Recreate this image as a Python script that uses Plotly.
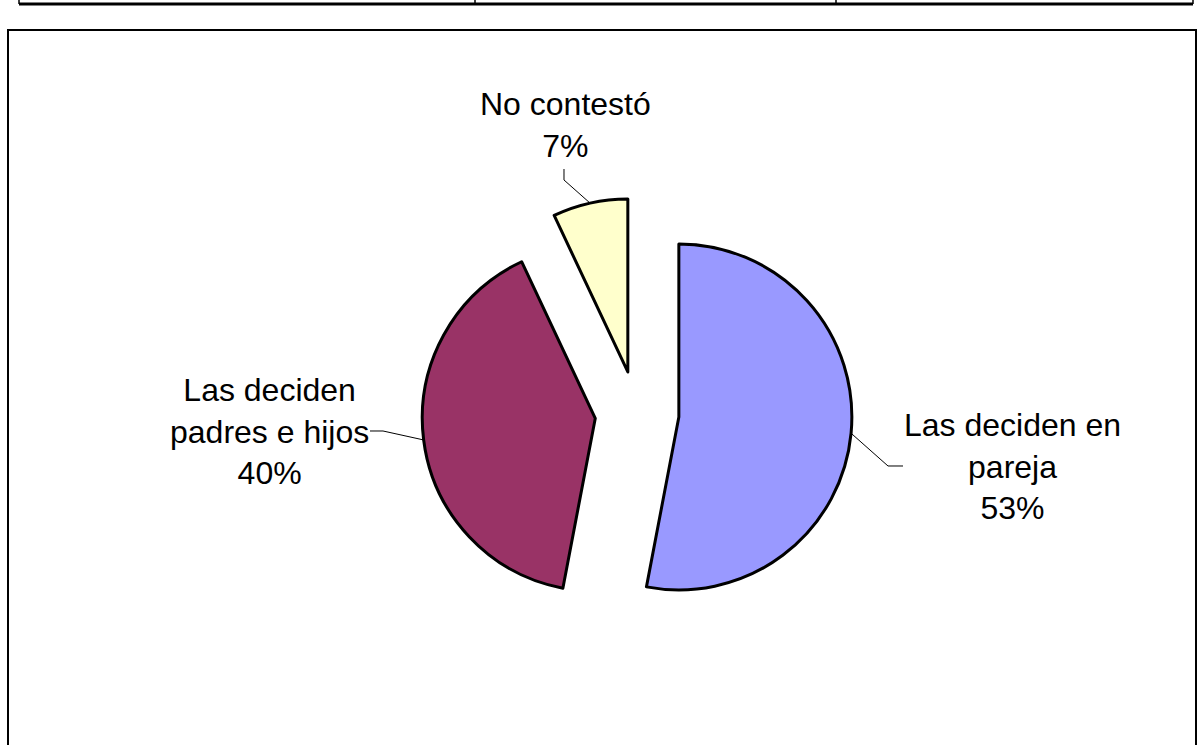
import math
import plotly.graph_objects as go

# ---- data ----
labels = ["Las deciden en pareja", "Las deciden padres e hijos", "No contestó"]
label_text = ["Las deciden en<br>pareja", "Las deciden<br>padres e hijos", "No contestó"]
values = [53, 40, 7]
colors = ["#9999FF", "#993366", "#FFFFCC"]

W, H = 1198, 745
FONT = "Liberation Sans, Arial, sans-serif"

# pie placement (pixels)
cx, cy = 637, 413
r = 173
pull = 0.243
half = r * (1 + pull)
dom_x = [(cx - half) / W, (cx + half) / W]
dom_y = [1 - (cy + half) / H, 1 - (cy - half) / H]

total = sum(values)
pct = [round(v * 100 / total) for v in values]

fig = go.Figure(go.Pie(
    labels=labels, values=values, sort=False, direction="clockwise", rotation=0,
    pull=[pull] * len(values),
    marker=dict(colors=colors, line=dict(color="black", width=3)),
    textinfo="none", hoverinfo="label+percent", showlegend=False,
    domain=dict(x=dom_x, y=dom_y),
))

def px(x):
    return x / W

def py(y):
    return 1 - y / H

# label layout (pixel positions of label centres and leader elbows)
label_pos = [(1013, 466), (269, 431), (565, 125)]
elbows = [[(888, 466), (903, 466)], [(383, 431), (370, 431)], [(564, 180), (564, 169)]]

annotations = []
shapes = []
cum = 0
for i, v in enumerate(values):
    mid = (cum + v / 2) / total * 2 * math.pi
    cum += v
    ex = cx + pull * r * math.sin(mid)
    ey = cy - pull * r * math.cos(mid)
    ax_ = ex + r * math.sin(mid)
    ay_ = ey - r * math.cos(mid)
    pts = [(ax_, ay_)] + elbows[i]
    path = "M " + " L ".join(f"{px(x):.5f},{py(y):.5f}" for x, y in pts)
    shapes.append(dict(type="path", xref="paper", yref="paper", path=path,
                       line=dict(color="black", width=1)))
    lx, ly = label_pos[i]
    annotations.append(dict(
        x=px(lx), y=py(ly), xref="paper", yref="paper",
        text=f"{label_text[i]}<br>{pct[i]}%", showarrow=False,
        xanchor="center", yanchor="middle", align="center",
        font=dict(family=FONT, size=32, color="black"),
    ))

# frame and top table rule
shapes.append(dict(type="path", xref="paper", yref="paper",
                   path=f"M {px(8)},{py(800)} L {px(8)},{py(30)} L {px(1196)},{py(30)} L {px(1196)},{py(800)}",
                   line=dict(color="black", width=2)))
shapes.append(dict(type="line", xref="paper", yref="paper",
                   x0=px(19), x1=px(1193), y0=py(4), y1=py(4),
                   line=dict(color="black", width=3)))
for vx in [19, 475, 836, 1193]:
    shapes.append(dict(type="line", xref="paper", yref="paper",
                       x0=px(vx), x1=px(vx), y0=py(0), y1=py(4),
                       line=dict(color="black", width=1.5)))

fig.update_layout(
    width=W, height=H,
    margin=dict(l=0, r=0, t=0, b=0),
    paper_bgcolor="white", plot_bgcolor="white",
    annotations=annotations, shapes=shapes,
)

fig.write_html(
    "out.html",
    config={"displayModeBar": False},
    post_script="document.body.style.margin='0';document.body.style.overflow='hidden';",
)
